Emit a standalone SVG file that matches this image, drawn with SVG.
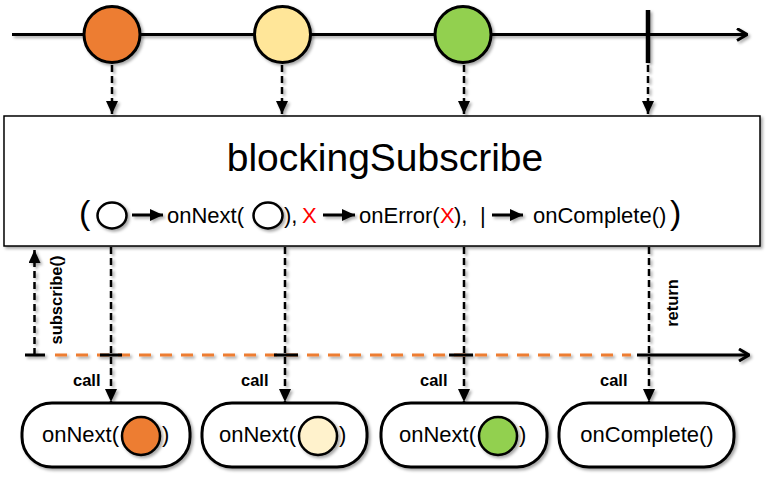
<svg xmlns="http://www.w3.org/2000/svg" width="774" height="477" viewBox="0 0 774 477">
<defs>
<filter id="sh" x="-20%" y="-20%" width="140%" height="140%">
<feDropShadow dx="2" dy="2" stdDeviation="1.5" flood-color="#000" flood-opacity="0.35"/>
</filter>
<marker id="tri" viewBox="0 0 13 12" refX="13" refY="6" markerWidth="13" markerHeight="12" markerUnits="userSpaceOnUse" orient="auto">
<path d="M0,0 L13,6 L0,12 Z" fill="#000"/>
</marker>
<marker id="chev" viewBox="0 0 12 14" refX="11" refY="7" markerWidth="12" markerHeight="14" markerUnits="userSpaceOnUse" orient="auto">
<path d="M1,1 L11,7 L1,13" fill="none" stroke="#000" stroke-width="3" stroke-linejoin="miter"/>
</marker>
</defs>
<style>
.t{font-family:"Liberation Sans",Arial,sans-serif;fill:#000}
.b{font-family:"Liberation Sans",Arial,sans-serif;font-weight:bold;font-size:16.5px;fill:#000}
.m{font-size:22px}
.red{fill:#FF0000}
.dash{stroke:#000;stroke-width:2.5;stroke-dasharray:7 4;fill:none}
.line{stroke:#000;stroke-width:3;fill:none}
.ball{stroke:#000;stroke-width:3}
.ring{stroke:#000;stroke-width:2.5}
.pill{fill:#fff;stroke:#000;stroke-width:3}
</style>
<rect width="774" height="477" fill="#fff"/>

<g id="top-timeline" filter="url(#sh)">
<line x1="12" y1="34.5" x2="747" y2="34.5" class="line" marker-end="url(#chev)"/>
<line x1="648" y1="10" x2="648" y2="63" stroke="#000" stroke-width="4.5"/>
</g>
<g id="item-orange" filter="url(#sh)"><circle cx="112" cy="34.5" r="28" fill="#ED7D31" class="ball"/></g>
<g id="item-yellow" filter="url(#sh)"><circle cx="282.5" cy="34.5" r="28" fill="#FFE699" class="ball"/></g>
<g id="item-green" filter="url(#sh)"><circle cx="463" cy="34.5" r="28" fill="#92D050" class="ball"/></g>

<g id="operator">
<rect x="4" y="116" width="756" height="130" fill="#fff" stroke="#000" stroke-width="1.5" filter="url(#sh)"/>
<text class="t" x="385" y="171" font-size="39" text-anchor="middle">blockingSubscribe</text>
<text class="t" x="79" y="224" font-size="34">(</text>
<g filter="url(#sh)">
<ellipse cx="112" cy="215.5" rx="14.5" ry="13" fill="#fff" class="ring"/>
<line x1="132" y1="215" x2="163" y2="215" class="line" marker-end="url(#tri)"/>
<ellipse cx="268" cy="215.5" rx="14.5" ry="13" fill="#fff" class="ring"/>
<line x1="323" y1="215" x2="355" y2="215" class="line" marker-end="url(#tri)"/>
<line x1="492" y1="215" x2="523" y2="215" class="line" marker-end="url(#tri)"/>
</g>
<text class="t m" x="167" y="223">onNext(</text>
<text class="t m" x="284" y="223">),</text>
<text class="t m red" x="302" y="223">X</text>
<text class="t m" x="359" y="223">onError(</text>
<text class="t m red" x="440" y="223">X</text>
<text class="t m" x="454" y="223">),</text>
<text class="t m" x="480" y="223">|</text>
<text class="t m" x="533" y="223">onComplete()</text>
<text class="t" x="670" y="224" font-size="34">)</text>
</g>

<g id="connectors">
<g filter="url(#sh)">
<line x1="112" y1="65" x2="112" y2="114" class="dash" marker-end="url(#tri)"/>
<line x1="282" y1="65" x2="282" y2="114" class="dash" marker-end="url(#tri)"/>
<line x1="464" y1="65" x2="464" y2="114" class="dash" marker-end="url(#tri)"/>
<line x1="648" y1="65" x2="648" y2="114" class="dash" marker-end="url(#tri)"/>
<line x1="111" y1="247" x2="111" y2="402" class="dash" marker-end="url(#tri)"/>
<line x1="285" y1="247" x2="285" y2="402" class="dash" marker-end="url(#tri)"/>
<line x1="464" y1="247" x2="464" y2="402" class="dash" marker-end="url(#tri)"/>
<line x1="649" y1="247" x2="649" y2="402" class="dash" marker-end="url(#tri)"/>
<line x1="34.5" y1="355" x2="34.5" y2="250" class="dash" marker-end="url(#tri)"/>
<line x1="55" y1="355" x2="631" y2="355" stroke="#ED7D31" stroke-width="3" stroke-dasharray="12 9"/>
<line x1="25" y1="355" x2="45" y2="355" class="line"/>
<line x1="100" y1="355" x2="122" y2="355" class="line"/>
<line x1="274" y1="355" x2="298" y2="355" class="line"/>
<line x1="449" y1="355" x2="473" y2="355" class="line"/>
<line x1="637" y1="355" x2="749" y2="355" class="line" marker-end="url(#chev)"/>
</g>
<text class="b" transform="translate(62,300) rotate(-90)" text-anchor="middle">subscribe()</text>
<text class="b" transform="translate(678,303) rotate(-90)" text-anchor="middle">return</text>
<text class="b" x="73" y="386">call</text>
<text class="b" x="241" y="386">call</text>
<text class="b" x="420" y="386">call</text>
<text class="b" x="600" y="386">call</text>
</g>

<g id="call-onnext-orange">
<rect x="22" y="403" width="168" height="64" rx="30" class="pill" filter="url(#sh)"/>
<text class="t m" x="42" y="442">onNext(</text>
<circle cx="141" cy="436" r="19" fill="#ED7D31" class="ring" filter="url(#sh)"/>
<text class="t m" x="162" y="442">)</text>
</g>
<g id="call-onnext-yellow">
<rect x="202" y="403" width="165" height="64" rx="30" class="pill" filter="url(#sh)"/>
<text class="t m" x="219" y="442">onNext(</text>
<circle cx="318" cy="436" r="19" fill="#FFF2CC" class="ring" filter="url(#sh)"/>
<text class="t m" x="339" y="442">)</text>
</g>
<g id="call-onnext-green">
<rect x="381" y="403" width="166" height="64" rx="30" class="pill" filter="url(#sh)"/>
<text class="t m" x="399" y="442">onNext(</text>
<circle cx="498" cy="436" r="19" fill="#92D050" class="ring" filter="url(#sh)"/>
<text class="t m" x="519" y="442">)</text>
</g>
<g id="call-oncomplete">
<rect x="559" y="403" width="175" height="64" rx="30" class="pill" filter="url(#sh)"/>
<text class="t m" x="647" y="442" text-anchor="middle">onComplete()</text>
</g>
</svg>
